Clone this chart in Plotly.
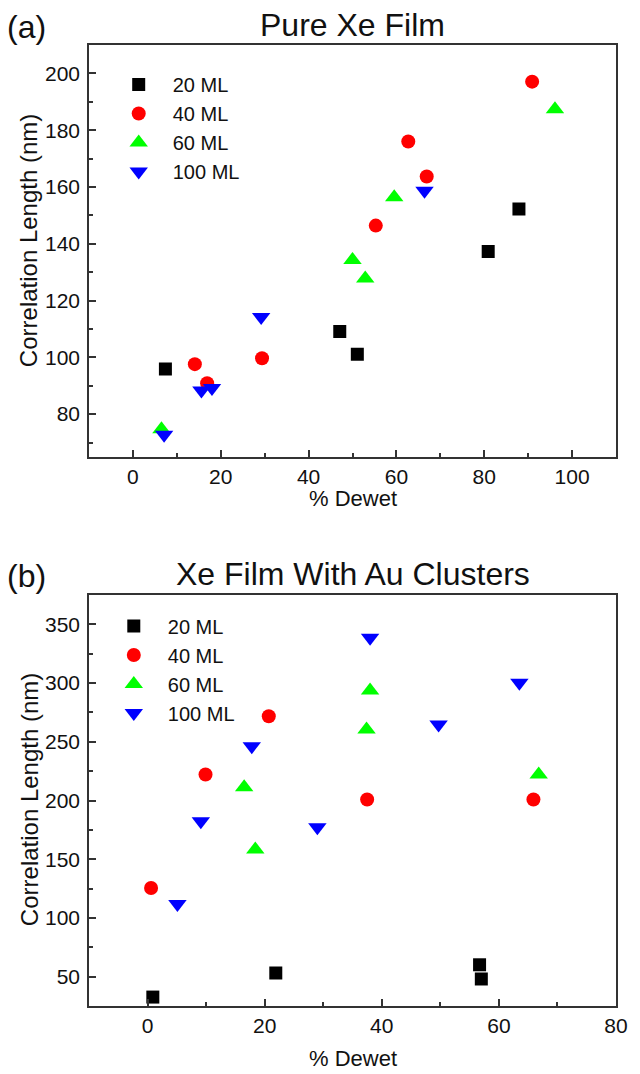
import plotly.graph_objects as go

# ---------------- data: panel (a) Pure Xe Film ----------------
a_20_x = [7.4, 47.1, 51.1, 80.9, 87.9]
a_20_y = [95.9, 109.1, 101.1, 137.3, 152.2]
a_40_x = [14.1, 16.9, 29.4, 55.3, 62.7, 66.9, 90.9]
a_40_y = [97.6, 90.9, 99.7, 146.4, 176.0, 163.7, 197.1]
a_60_x = [6.5, 50.0, 52.9, 59.5, 96.1]
a_60_y = [74.7, 134.3, 127.8, 156.4, 187.4]
a_100_x = [7.1, 15.6, 18.0, 29.2, 66.4]
a_100_y = [72.7, 88.3, 89.2, 114.2, 158.7]

# ---------------- data: panel (b) Xe Film With Au Clusters ----------------
b_20_x = [0.9, 21.9, 56.7, 57.0]
b_20_y = [32.6, 53.1, 60.1, 48.0]
b_40_x = [0.6, 9.9, 20.7, 37.5, 65.9]
b_40_y = [125.5, 222.1, 271.8, 200.8, 200.8]
b_60_x = [16.5, 18.4, 37.4, 38.0, 66.8]
b_60_y = [211.3, 158.2, 260.5, 293.7, 222.1]
b_100_x = [5.1, 9.1, 17.8, 29.0, 38.0, 49.7, 63.5]
b_100_y = [111.9, 182.3, 246.3, 177.2, 338.7, 264.7, 300.3]

series_names = ["20 ML", "40 ML", "60 ML", "100 ML"]
titles = ["Pure Xe Film", "Xe Film With Au Clusters"]
panel_labels = ["(a)", "(b)"]
x_title = "% Dewet"
y_title = "Correlation Length (nm)"

FONT = "Arial, 'Liberation Sans', sans-serif"
colors = ["#000000", "#FF0000", "#00FF00", "#0000FF"]
symbols = ["square", "circle", "triangle-up", "triangle-down"]
sizes = [13, 14, 16, 16]

W, H = 640, 1074
ML, MR, MT, MB = 89, 14, 45, 68
PH = H - MT - MB
PW = W - ML - MR


def py(pix):
    return (H - MB - pix) / PH


def px(pix):
    return (pix - ML) / PW


fig = go.Figure()

panel_a = [(a_20_x, a_20_y), (a_40_x, a_40_y), (a_60_x, a_60_y), (a_100_x, a_100_y)]
panel_b = [(b_20_x, b_20_y), (b_40_x, b_40_y), (b_60_x, b_60_y), (b_100_x, b_100_y)]

for i, (xs, ys) in enumerate(panel_a):
    fig.add_trace(go.Scatter(x=xs, y=ys, mode="markers", name=series_names[i],
                             marker=dict(symbol=symbols[i], size=sizes[i], color=colors[i],
                                         line=dict(width=0)),
                             xaxis="x", yaxis="y", legend="legend"))
for i, (xs, ys) in enumerate(panel_b):
    fig.add_trace(go.Scatter(x=xs, y=ys, mode="markers", name=series_names[i],
                             marker=dict(symbol=symbols[i], size=sizes[i], color=colors[i],
                                         line=dict(width=0)),
                             xaxis="x2", yaxis="y2", legend="legend2"))

top_dom = [py(456.7), 1.0]
bot_dom = [0.0, py(595)]

axis_common = dict(showline=True, linecolor="#333333", linewidth=1.6, mirror=True,
                   ticks="inside", ticklen=7, tickwidth=1.5, tickcolor="#333333",
                   showgrid=False, zeroline=False,
                   tickfont=dict(family=FONT, size=21, color="#111111"))

fig.update_layout(
    width=W, height=H,
    margin=dict(l=ML, r=MR, t=MT, b=MB),
    paper_bgcolor="white", plot_bgcolor="white",
    font=dict(family=FONT, color="#111111"),
    xaxis=dict(domain=[0, 1], anchor="y", range=[-10, 110], dtick=20, tick0=0,
               minor=dict(ticks="inside", ticklen=4, dtick=10, tickcolor="#333333", tickwidth=1.5),
               ticklabelstandoff=0, **axis_common),
    yaxis=dict(domain=top_dom, anchor="x", range=[65, 210], dtick=20, tick0=0,
               minor=dict(ticks="inside", ticklen=4, dtick=10, tickcolor="#333333", tickwidth=1.5),
               ticklabelstandoff=3, **axis_common),
    xaxis2=dict(domain=[0, 1], anchor="y2", range=[-10, 80], dtick=20, tick0=0,
                minor=dict(ticks="inside", ticklen=4, dtick=10, tickcolor="#333333", tickwidth=1.5),
                ticklabelstandoff=0, **axis_common),
    yaxis2=dict(domain=bot_dom, anchor="x2", range=[25, 375], dtick=50, tick0=0,
                minor=dict(ticks="inside", ticklen=4, dtick=25, tickcolor="#333333", tickwidth=1.5),
                ticklabelstandoff=3, **axis_common),
    legend=dict(x=px(139 - 34), y=py(65), xanchor="left", yanchor="top",
                itemwidth=58, bgcolor="rgba(0,0,0,0)", borderwidth=0,
                font=dict(family=FONT, size=20, color="#111111"), tracegroupgap=0),
    legend2=dict(x=px(134 - 34), y=py(606.5), xanchor="left", yanchor="top",
                 itemwidth=58, bgcolor="rgba(0,0,0,0)", borderwidth=0,
                 font=dict(family=FONT, size=20, color="#111111"), tracegroupgap=0),
)

annos = [
    dict(text=titles[0], x=0.5, y=py(25), font=dict(size=32)),
    dict(text=titles[1], x=0.5, y=py(574), font=dict(size=32)),
    dict(text=panel_labels[0], x=px(3), y=py(27), xanchor="left", font=dict(size=32)),
    dict(text=panel_labels[1], x=px(3), y=py(576), xanchor="left", font=dict(size=32)),
    dict(text=x_title, x=0.5, y=py(498), font=dict(size=22)),
    dict(text=x_title, x=0.5, y=py(1058), font=dict(size=22)),
    dict(text=y_title, x=px(28), y=py(241), textangle=-90, font=dict(size=24)),
    dict(text=y_title, x=px(28), y=py(800), textangle=-90, font=dict(size=24)),
]
for a in annos:
    a.setdefault("xanchor", "center")
    fig.add_annotation(xref="paper", yref="paper", showarrow=False, yanchor="middle",
                       **{k: v for k, v in a.items() if k != "font"},
                       font=dict(family=FONT, color="#111111", **a["font"]))

fig.write_html("out.html", config={"displayModeBar": False},
               post_script="document.body.style.margin='0';document.body.style.overflow='hidden';")
